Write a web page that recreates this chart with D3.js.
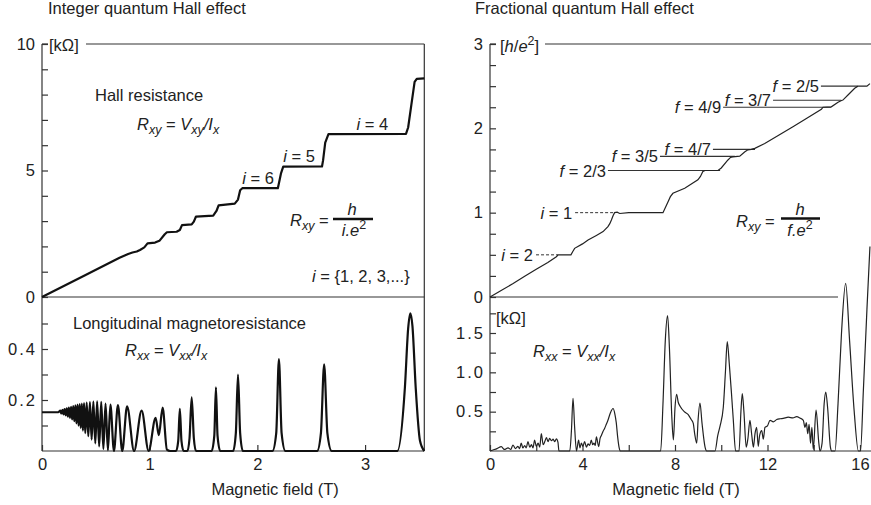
<!DOCTYPE html>
<html>
<head>
<meta charset="utf-8">
<script src="https://cdn.jsdelivr.net/npm/d3@7"></script>
<style>
  body { margin: 0; background: #fff; }
  svg { font-family: "Liberation Sans", Arial, sans-serif; }
  .axis text { font-size: 16.5px; fill: #222; }
  .axis line { stroke: #333; stroke-width: 1.2; }
  .axis path { display: none; }
  .lbl { font-size: 16.5px; fill: #222; }
  .frame { stroke: #333; stroke-width: 1.2; fill: none; }
</style>
</head>
<body>
<svg id="chart" width="871" height="505"></svg>
<script>
// ---- Integer quantum Hall effect: Hall resistance (kOhm) vs field (T)
var iqheB = [0, 0.40, 0.72, 0.80, 0.84, 0.88, 0.91, 0.95, 0.98, 1.05, 1.09, 1.14, 1.16, 1.25,
  1.28, 1.30, 1.39, 1.41, 1.43, 1.59, 1.62, 1.64, 1.79, 1.82, 1.84, 1.86, 2.19, 2.20, 2.22,
  2.24, 2.60, 2.61, 2.63, 2.66, 3.38, 3.40, 3.43, 3.46, 3.48, 3.55];
var iqheRxy = [0, 0.86, 1.55, 1.70, 1.76, 1.80, 1.86, 1.96, 2.12, 2.15, 2.22, 2.48, 2.56, 2.58,
  2.65, 2.84, 2.87, 2.98, 3.18, 3.22, 3.40, 3.62, 3.69, 3.85, 4.22, 4.30, 4.30, 4.50, 4.90,
  5.15, 5.16, 5.40, 6.10, 6.44, 6.45, 6.70, 7.60, 8.50, 8.62, 8.64];

// ---- Integer QHE: longitudinal magnetoresistance (kOhm) vs field (T)
var iqheXxB = [0, 0.08, 0.15, 0.17, 0.18, 0.19, 0.20, 0.21, 0.22, 0.23, 0.24, 0.25, 0.26, 0.27,
  0.28, 0.29, 0.30, 0.31, 0.32, 0.33, 0.34, 0.35, 0.36, 0.37, 0.38, 0.39, 0.402, 0.415, 0.43,
  0.445, 0.461, 0.477, 0.495, 0.512, 0.531, 0.550, 0.570, 0.590, 0.612, 0.635, 0.668, 0.705,
  0.745, 0.79, 0.855, 0.925, 0.99, 1.055, 1.085, 1.12, 1.16, 1.19, 1.245, 1.265, 1.28, 1.295,
  1.315, 1.35, 1.37, 1.39, 1.41, 1.43, 1.575, 1.60, 1.615, 1.63, 1.655, 1.775, 1.80, 1.82,
  1.84, 1.865, 2.14, 2.175, 2.20, 2.225, 2.26, 2.555, 2.59, 2.62, 2.65, 2.69, 3.30, 3.37,
  3.40, 3.42, 3.44, 3.47, 3.51, 3.55];
var iqheRxx = [0.152, 0.152, 0.152, 0.158, 0.147, 0.161, 0.144, 0.164, 0.140, 0.167, 0.135,
  0.170, 0.130, 0.173, 0.124, 0.176, 0.117, 0.179, 0.108, 0.182, 0.099, 0.184, 0.090, 0.186,
  0.080, 0.188, 0.070, 0.190, 0.058, 0.192, 0.045, 0.194, 0.030, 0.195, 0.018, 0.193, 0.008,
  0.186, 0.003, 0.182, 0.0, 0.180, 0.0, 0.175, 0.0, 0.158, 0.0, 0.130, 0.062, 0.170, 0.005,
  0.0, 0.0, 0.04, 0.165, 0.04, 0.0, 0.0, 0.05, 0.21, 0.05, 0.0, 0.0, 0.06, 0.25, 0.06, 0.0,
  0.0, 0.07, 0.30, 0.07, 0.0, 0.0, 0.07, 0.36, 0.07, 0.0, 0.0, 0.07, 0.34, 0.07, 0.0, 0.0,
  0.25, 0.48, 0.54, 0.49, 0.25, 0.04, 0.0];

// ---- Fractional QHE: Hall resistance (h/e^2) vs field (T)
var fqheB = [0, 0.5, 1.0, 1.5, 2.0, 2.5, 2.87, 2.95, 3.50, 3.58, 3.66, 4.0, 4.24, 4.6, 4.89,
  5.10, 5.18, 5.25, 5.33, 5.39, 5.50, 5.61, 6.0, 7.0, 7.48, 7.60, 7.70, 7.80, 7.91, 8.42,
  8.99, 9.10, 9.21, 9.30, 9.86, 10.0, 10.29, 10.40, 10.50, 10.80, 11.01, 11.15, 11.30, 11.45,
  11.88, 12.5, 13.1, 13.7, 14.33, 14.40, 14.76, 15.05, 15.20, 15.26, 15.48, 15.77, 15.91,
  16.30, 16.43];
var fqheRxy = [0, 0.08, 0.16, 0.245, 0.33, 0.41, 0.478, 0.50, 0.50, 0.54, 0.577, 0.63, 0.676,
  0.73, 0.775, 0.834, 0.87, 0.913, 0.97, 1.0, 1.005, 0.99, 1.0, 1.0, 1.0, 1.07, 1.13, 1.19,
  1.23, 1.29, 1.39, 1.43, 1.49, 1.50, 1.50, 1.53, 1.625, 1.655, 1.662, 1.67, 1.72, 1.745,
  1.75, 1.763, 1.82, 1.92, 2.02, 2.12, 2.225, 2.25, 2.255, 2.31, 2.33, 2.335, 2.395, 2.475,
  2.50, 2.50, 2.53];

// ---- Fractional QHE: longitudinal resistance (kOhm) vs field (T)
var fqheXxB = [0, 0.13, 0.3, 0.49, 0.62, 0.78, 0.9, 0.99, 1.1, 1.21, 1.28, 1.35, 1.42, 1.50,
  1.57, 1.64, 1.72, 1.79, 1.86, 1.93, 2.0, 2.08, 2.15, 2.22, 2.30, 2.37, 2.44, 2.51, 2.58,
  2.66, 2.73, 2.80, 2.87, 2.94, 2.98, 3.45, 3.52, 3.59, 3.66, 3.74, 3.83, 3.89, 3.95, 4.02,
  4.09, 4.17, 4.24, 4.31, 4.38, 4.44, 4.50, 4.55, 4.60, 4.70, 4.76, 4.82, 4.89, 4.96, 5.03,
  5.10, 5.20, 5.32, 5.40, 5.46, 5.52, 5.58, 5.64, 7.38, 7.48, 7.58, 7.68, 7.76, 7.86, 7.93,
  8.00, 8.07, 8.14, 8.22, 8.40, 8.58, 8.70, 8.79, 8.85, 8.94, 9.00, 9.08, 9.17, 9.30, 9.37,
  9.73, 9.85, 9.95, 10.09, 10.18, 10.26, 10.35, 10.45, 10.52, 10.62, 10.77, 10.85, 10.91,
  10.98, 11.08, 11.15, 11.24, 11.32, 11.39, 11.46, 11.53, 11.60, 11.66, 11.75, 11.82, 11.89,
  12.0, 12.11, 12.25, 12.4, 12.55, 12.68, 12.9, 13.1, 13.26, 13.4, 13.55, 13.62, 13.68,
  13.74, 13.80, 13.86, 13.92, 13.98, 14.10, 14.22, 14.27, 14.36, 14.45, 14.52, 14.60, 14.72,
  14.78, 14.92, 15.05, 15.2, 15.38, 15.55, 15.75, 15.93, 16.02, 16.15, 16.30, 16.43];
var fqheRxx = [0, 0.013, 0.03, 0.055, 0.02, 0.04, 0.02, 0.076, 0.03, 0.06, 0.03, 0.10, 0.04,
  0.07, 0.04, 0.12, 0.05, 0.08, 0.04, 0.14, 0.06, 0.10, 0.05, 0.22, 0.08, 0.12, 0.17, 0.12,
  0.16, 0.13, 0.15, 0.12, 0.155, 0.11, 0.0, 0.0, 0.25, 0.67, 0.30, 0.0, 0.14, 0.04, 0.10,
  0.06, 0.12, 0.05, 0.09, 0.07, 0.14, 0.08, 0.10, 0.07, 0.18, 0.055, 0.16, 0.20, 0.25, 0.29,
  0.34, 0.39, 0.48, 0.54, 0.47, 0.36, 0.18, 0.05, 0.0, 0.0, 0.60, 1.40, 1.72, 1.30, 0.45,
  0.14, 0.55, 0.72, 0.62, 0.57, 0.50, 0.46, 0.40, 0.35, 0.22, 0.10, 0.40, 0.61, 0.35, 0.05,
  0.0, 0.0, 0.20, 0.32, 0.56, 1.00, 1.39, 1.10, 0.70, 0.40, 0.0, 0.0, 0.50, 0.73, 0.50,
  0.05, 0.15, 0.39, 0.20, 0.05, 0.22, 0.30, 0.06, 0.20, 0.26, 0.15, 0.30, 0.32, 0.39, 0.37,
  0.40, 0.41, 0.415, 0.43, 0.42, 0.436, 0.42, 0.39, 0.30, 0.36, 0.22, 0.34, 0.10, 0.30,
  0.02, 0.52, 0.10, 0.0, 0.10, 0.60, 0.75, 0.55, 0.05, 0.0, 0.0, 0.60, 1.50, 2.13, 1.40,
  0.50, 0.0, 0.0, 0.80, 1.80, 2.60];

// ---- plateau annotations
var intNames = ["4", "5", "6"];
var intLevels = [6.453, 5.163, 4.302];
var intLabelB = [2.92, 2.24, 1.86];

var fracNames = ["2/5", "3/7", "4/9", "4/7", "3/5", "2/3"];
var fracLevels = [2.5, 2.333, 2.25, 1.75, 1.667, 1.5];
var fracFrom = [14.31, 12.24, 10.08, 9.64, 7.35, 5.10];
var fracTo = [15.9, 15.18, 14.75, 11.46, 10.59, 9.95];

var fIntNames = ["1", "2"];
var fIntLevels = [1, 0.5];
var fIntFrom = [3.68, 1.99];
var fIntTo = [5.41, 2.94];

// ---- ticks
var hallTicksL = [0, 1, 2, 3, 4, 5, 6, 7, 8, 9, 10];
var hallLabelsL = [0, 5, 10];
var xxTicksL = [0.1, 0.2, 0.3, 0.4, 0.5];
var xxLabelsL = [0.2, 0.4];
var bTicksL = [0, 1, 2, 3];
var hallTicksR = [0, 0.25, 0.5, 0.75, 1, 1.25, 1.5, 1.75, 2, 2.25, 2.5, 2.75, 3];
var hallLabelsR = [0, 1, 2, 3];
var xxTicksR = [0.25, 0.5, 0.75, 1, 1.25, 1.5, 1.75];
var xxLabelsR = [0.5, 1, 1.5];
var bTicksR = [0, 2, 4, 6, 8, 10, 12, 14, 16];
var bLabelsR = [0, 4, 8, 12, 16];

var svg = d3.select("#chart");

// scales
var xL = d3.scaleLinear().domain([0, 3.55]).range([42, 424.3]);
var yLH = d3.scaleLinear().domain([0, 10]).range([297, 44]);
var yLX = d3.scaleLinear().domain([0, 0.5]).range([451, 323.5]);
var xR = d3.scaleLinear().domain([0, 16]).range([490, 860]);
var yRH = d3.scaleLinear().domain([0, 3]).range([297, 44]);
var yRX = d3.scaleLinear().domain([0, 1.5]).range([451, 333]);

// rich text helper: parts {t, i (italic), sub, sup}
function rich(x, y, parts, anchor) {
  var t = svg.append("text").attr("class", "lbl").attr("x", x).attr("y", y);
  if (anchor) t.attr("text-anchor", anchor);
  var cur = 0;
  parts.forEach(function (p) {
    var shift = p.sub ? 4 : (p.sup ? -7 : 0);
    var s = t.append("tspan").text(p.t).attr("dy", shift - cur);
    cur = shift;
    if (p.i) s.style("font-style", "italic");
    if (p.sub || p.sup) s.style("font-size", "12.5px");
  });
  return t;
}

function hline(x1, x2, y) {
  svg.append("line").attr("class", "frame")
    .attr("x1", x1).attr("x2", x2).attr("y1", y).attr("y2", y);
}
function vline(x, y1, y2) {
  svg.append("line").attr("class", "frame")
    .attr("x1", x).attr("x2", x).attr("y1", y1).attr("y2", y2);
}

function yAxis(x, scale, ticks, labels, fmt, wide) {
  var g = svg.append("g").attr("class", "axis")
    .attr("transform", "translate(" + x + ",0)")
    .call(d3.axisLeft(scale).tickValues(ticks).tickSize(-6).tickPadding(7).tickSizeOuter(0)
      .tickFormat(function (d) { return labels.indexOf(d) >= 0 ? fmt(d) : ""; }));
  if (wide) {
    // the reference sets decimal labels with a loose point
    g.selectAll("text").filter(function () { return this.textContent !== ""; })
      .attr("textLength", 27).attr("lengthAdjust", "spacing");
  }
}
function xAxis(y, scale, ticks, labels) {
  svg.append("g").attr("class", "axis")
    .attr("transform", "translate(0," + y + ")")
    .call(d3.axisBottom(scale).tickValues(ticks).tickSize(-6).tickPadding(7).tickSizeOuter(0)
      .tickFormat(function (d) { return labels.indexOf(d) >= 0 ? d : ""; }));
}

// ================= LEFT: integer QHE =================
var lx0 = xL.range()[0], lx1 = xL.range()[1];
vline(lx0, yLH(10), yLX(0));
vline(lx1, yLH(10), yLX(0));
hline(lx0, lx0 + 6, yLH(10));
hline(86, lx1, yLH(10));
hline(lx0, lx1, yLH(0));
hline(lx0, lx1, yLX(0));

yAxis(lx0, yLH, hallTicksL, hallLabelsL, d3.format("d"), false);
yAxis(lx0, yLX, xxTicksL, xxLabelsL, d3.format(".1f"), true);
xAxis(yLX(0), xL, bTicksL, bTicksL);

svg.append("text").attr("class", "lbl").attr("x", 49).attr("y", 51).text("[kΩ]");

var lineLH = d3.line().x(function (d) { return xL(d[0]); }).y(function (d) { return yLH(d[1]); });
svg.append("path").datum(d3.zip(iqheB, iqheRxy))
  .attr("fill", "none").attr("stroke", "#111").attr("stroke-width", 2.2)
  .attr("stroke-linejoin", "round").attr("d", lineLH);

var lineLX = d3.line().curve(d3.curveMonotoneX)
  .x(function (d) { return xL(d[0]); }).y(function (d) { return yLX(d[1]); });
svg.append("path").datum(d3.zip(iqheXxB, iqheRxx))
  .attr("fill", "none").attr("stroke", "#111").attr("stroke-width", 2.2)
  .attr("stroke-linejoin", "round").attr("d", lineLX);

intNames.forEach(function (n, k) {
  rich(xL(intLabelB[k]), yLH(intLevels[k]) - 4, [{ t: "i", i: true }, { t: " = " + n }]);
});

rich(95, 101, [{ t: "Hall resistance" }]);
rich(137, 130, [{ t: "R", i: true }, { t: "xy", i: true, sub: true }, { t: " = " },
  { t: "V", i: true }, { t: "xy", i: true, sub: true }, { t: "/", i: true },
  { t: "I", i: true }, { t: "x", i: true, sub: true }]);
rich(290, 226, [{ t: "R", i: true }, { t: "xy", i: true, sub: true }, { t: " =" }]);
svg.append("line").attr("x1", 333).attr("x2", 373).attr("y1", 219).attr("y2", 219)
  .attr("stroke", "#111").attr("stroke-width", 2.6);
rich(352, 215, [{ t: "h", i: true }], "middle");
rich(354, 236, [{ t: "i.e", i: true }, { t: "2", sup: true }], "middle");
rich(312, 282, [{ t: "i", i: true }, { t: " = {1, 2, 3,...}" }]);

rich(73, 329, [{ t: "Longitudinal magnetoresistance" }]);
rich(125, 356, [{ t: "R", i: true }, { t: "xx", i: true, sub: true }, { t: " = " },
  { t: "V", i: true }, { t: "xx", i: true, sub: true }, { t: "/", i: true },
  { t: "I", i: true }, { t: "x", i: true, sub: true }]);

rich(48, 14, [{ t: "Integer quantum Hall effect" }]);
rich((lx0 + lx1) / 2 + 42, 495, [{ t: "Magnetic field (T)" }], "middle");

// ================= RIGHT: fractional QHE =================
var rx0 = xR.range()[0];
vline(rx0, yRH(3), yRX(0));
hline(rx0, rx0 + 6, yRH(3));
hline(545, 871, yRH(3));
hline(rx0, 838, yRH(0));
hline(rx0, 871, yRX(0));

yAxis(rx0, yRH, hallTicksR, hallLabelsR, d3.format("d"), false);
yAxis(rx0, yRX, xxTicksR, xxLabelsR, d3.format(".1f"), true);
xAxis(yRX(0), xR, bTicksR, bLabelsR);

rich(500, 52, [{ t: "[" }, { t: "h", i: true }, { t: "/" }, { t: "e", i: true },
  { t: "2", sup: true }, { t: "]" }]);
rich(496, 324, [{ t: "[kΩ]" }]);

// plateau reference lines
fracNames.forEach(function (n, k) {
  var y = yRH(fracLevels[k]);
  svg.append("line").attr("x1", xR(fracFrom[k])).attr("x2", xR(fracTo[k]))
    .attr("y1", y).attr("y2", y).attr("stroke", "#333").attr("stroke-width", 1.2);
  rich(xR(fracFrom[k]) - 2, y + 6, [{ t: "f", i: true }, { t: " = " + n }], "end");
});
fIntNames.forEach(function (n, k) {
  var y = yRH(fIntLevels[k]);
  svg.append("line").attr("x1", xR(fIntFrom[k])).attr("x2", xR(fIntTo[k]))
    .attr("y1", y).attr("y2", y).attr("stroke", "#333").attr("stroke-width", 1)
    .attr("stroke-dasharray", "3,2");
  rich(xR(fIntFrom[k]) - 3, y + 6, [{ t: "i", i: true }, { t: " = " + n }], "end");
});

var lineRH = d3.line().x(function (d) { return xR(d[0]); }).y(function (d) { return yRH(d[1]); });
svg.append("path").datum(d3.zip(fqheB, fqheRxy))
  .attr("fill", "none").attr("stroke", "#222").attr("stroke-width", 1.2)
  .attr("d", lineRH);

var lineRX = d3.line().curve(d3.curveMonotoneX)
  .x(function (d) { return xR(d[0]); }).y(function (d) { return yRX(d[1]); });
svg.append("path").datum(d3.zip(fqheXxB, fqheRxx))
  .attr("fill", "none").attr("stroke", "#222").attr("stroke-width", 1.2)
  .attr("d", lineRX);

rich(736, 226.5, [{ t: "R", i: true }, { t: "xy", i: true, sub: true }, { t: " =" }]);
svg.append("line").attr("x1", 781).attr("x2", 820).attr("y1", 218.5).attr("y2", 218.5)
  .attr("stroke", "#111").attr("stroke-width", 2.6);
rich(800, 215, [{ t: "h", i: true }], "middle");
rich(800, 236, [{ t: "f.e", i: true }, { t: "2", sup: true }], "middle");

rich(533, 357, [{ t: "R", i: true }, { t: "xx", i: true, sub: true }, { t: " = " },
  { t: "V", i: true }, { t: "xx", i: true, sub: true }, { t: "/", i: true },
  { t: "I", i: true }, { t: "x", i: true, sub: true }]);

rich(475, 14, [{ t: "Fractional quantum Hall effect" }]);
rich(676, 495, [{ t: "Magnetic field (T)" }], "middle");
</script>
</body>
</html>
